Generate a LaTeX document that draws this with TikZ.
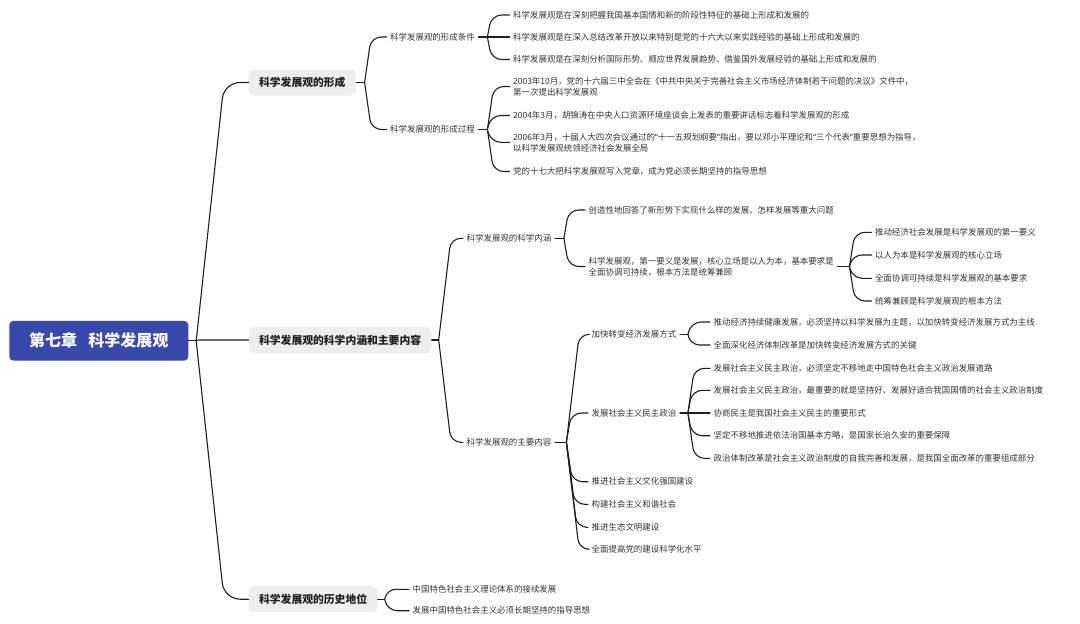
\documentclass[tikz,border=0pt]{standalone}
\usepackage{fontspec}
\setmainfont{Noto Sans CJK SC}
\newfontfamily\latinq{Noto Sans}
\newcommand\mmlq{{\latinq “}}
\newcommand\mmrq{{\latinq ”}}
\usetikzlibrary{calc}
\definecolor{rootblue}{HTML}{3949AB}
\definecolor{boxgray}{HTML}{EEEEEE}
\definecolor{topictext}{HTML}{1E1E1E}
\definecolor{leaftext}{HTML}{333333}
\definecolor{linec}{HTML}{1F1F1F}
\newdimen\mmxa \newdimen\mmya \newdimen\mmxb \newdimen\mmyb
\newcommand\mmlink[3][10]{%
  \pgfextractx{\mmxa}{\pgfpointanchor{#2}{center}}%
  \pgfextracty{\mmya}{\pgfpointanchor{#2}{center}}%
  \pgfextractx{\mmxb}{\pgfpointanchor{#3}{west}}%
  \pgfextracty{\mmyb}{\pgfpointanchor{#3}{west}}%
  \pgfmathsetmacro\mmdy{abs(\mmyb-\mmya)}%
  \pgfmathsetmacro\mmkx{\mmxa+0.1*\mmdy+2}%
  \pgfmathsetmacro\mmr{max(0.01,min(#1,0.8*\mmdy))}%
  \draw[conn,rounded corners=\mmr pt] (#2) -- (\mmkx pt,\the\mmyb) -- (#3.west);%
}
\begin{document}
\begin{tikzpicture}[x=1pt,y=-1pt,
  conn/.style={draw=linec, line width=1.1pt, line cap=round, line join=round},
  rootbox/.style={fill=rootblue, text=white, rounded corners=4pt,
    font=\fontsize{16}{16}\selectfont\bfseries, minimum width=179pt,
    minimum height=39.7pt, inner sep=0pt},
  topic/.style={fill=boxgray, text=topictext, rounded corners=5pt,
    font=\fontsize{10.8}{12}\selectfont\bfseries, inner xsep=10.4pt,
    inner ysep=0pt, minimum height=26pt, anchor=west},
  leaf/.style={text=leaftext, font=\fontsize{8.45}{11}\selectfont,
    inner xsep=3.5pt, inner ysep=1pt, anchor=west, align=left},
]
\useasboundingbox (0,0) rectangle (1080,624);

% root and main topics
\node[rootbox] (root) at (98.8,340.8) {第七章\hspace{0.7em}科学发展观};
\node[topic] (A) at (248.5,82.5) {科学发展观的形成};
\node[topic] (B) at (248.5,340) {科学发展观的科学内涵和主要内容};
\node[topic] (C) at (248.5,599.2) {科学发展观的历史地位};

% branch A
\node[leaf] (A1) at (386.5,37) {科学发展观的形成条件};
\node[leaf] (A2) at (386.5,129.5) {科学发展观的形成过程};
\node[leaf] (A11) at (509.5,15) {科学发展观是在深刻把握我国基本国情和新的阶段性特征的基础上形成和发展的};
\node[leaf] (A12) at (509.5,37) {科学发展观是在深入总结改革开放以来特别是党的十六大以来实践经验的基础上形成和发展的};
\node[leaf] (A13) at (509.5,59.5) {科学发展观是在深刻分析国际形势、顺应世界发展趋势、借鉴国外发展经验的基础上形成和发展的};
\node[leaf] (A21) at (509.5,86.5) {2003年10月，党的十六届三中全会在《中共中央关于完善社会主义市场经济体制若干问题的决议》文件中，\\第一次提出科学发展观};
\node[leaf] (A22) at (509.5,115.5) {2004年3月，胡锦涛在中央人口资源环境座谈会上发表的重要讲话标志着科学发展观的形成};
\node[leaf] (A23) at (509.5,142.3) {2006年3月，十届人大四次会议通过的\mmlq 十一五规划纲要\mmrq 指出，要以邓小平理论和\mmlq 三个代表\mmrq 重要思想为指导，\\以科学发展观统领经济社会发展全局};
\node[leaf] (A24) at (509.5,171.5) {党的十七大把科学发展观写入党章，成为党必须长期坚持的指导思想};

% branch B
\node[leaf] (B1) at (463,238.3) {科学发展观的科学内涵};
\node[leaf] (B2) at (463,442.3) {科学发展观的主要内容};
\node[leaf] (B11) at (585,210) {创造性地回答了新形势下实现什么样的发展、怎样发展等重大问题};
\node[leaf] (B12) at (585,266.5) {科学发展观，第一要义是发展，核心立场是以人为本，基本要求是\\全面协调可持续，根本方法是统筹兼顾};
\node[leaf] (B121) at (871.5,232.3) {推动经济社会发展是科学发展观的第一要义};
\node[leaf] (B122) at (871.5,255) {以人为本是科学发展观的核心立场};
\node[leaf] (B123) at (871.5,278.3) {全面协调可持续是科学发展观的基本要求};
\node[leaf] (B124) at (871.5,301) {统筹兼顾是科学发展观的根本方法};
\node[leaf] (B21) at (588,334.3) {加快转变经济发展方式};
\node[leaf] (B22) at (588,413) {发展社会主义民主政治};
\node[leaf] (B23) at (588,481.7) {推进社会主义文化强国建设};
\node[leaf] (B24) at (588,504.3) {构建社会主义和谐社会};
\node[leaf] (B25) at (588,527.3) {推进生态文明建设};
\node[leaf] (B26) at (588,549.3) {全面提高党的建设科学化水平};
\node[leaf] (B211) at (710,322) {推动经济持续健康发展，必须坚持以科学发展为主题，以加快转变经济发展方式为主线};
\node[leaf] (B212) at (710,345) {全面深化经济体制改革是加快转变经济发展方式的关键};
\node[leaf] (B221) at (710,368.3) {发展社会主义民主政治，必须坚定不移地走中国特色社会主义政治发展道路};
\node[leaf] (B222) at (710,390.3) {发展社会主义民主政治，最重要的就是坚持好、发展好适合我国国情的社会主义政治制度};
\node[leaf] (B223) at (710,413) {协商民主是我国社会主义民主的重要形式};
\node[leaf] (B224) at (710,435.7) {坚定不移地推进依法治国基本方略，是国家长治久安的重要保障};
\node[leaf] (B225) at (710,458.3) {政治体制改革是社会主义政治制度的自我完善和发展，是我国全面改革的重要组成部分};

% branch C
\node[leaf] (C1) at (409,589.3) {中国特色社会主义理论体系的接续发展};
\node[leaf] (C2) at (409,610.7) {发展中国特色社会主义必须长期坚持的指导思想};

% fan points
\coordinate (fr) at ($(root.east)+(7.7,0)$);
\coordinate (fa) at ($(A.east)+(8.5,0)$);
\coordinate (fb) at ($(B.east)+(7,0)$);
\coordinate (fc) at ($(C.east)+(7,0)$);
\coordinate (fA1) at ($(A1.east)+(9,0)$);
\coordinate (fA2) at ($(A2.east)+(9,0)$);
\coordinate (fB1) at ($(B1.east)+(9,0)$);
\coordinate (fB12) at ($(B12.east)+(12,0)$);
\coordinate (fB2) at ($(B2.east)+(11.5,0)$);
\coordinate (fB21) at ($(B21.east)+(8,0)$);
\coordinate (fB22) at ($(B22.east)+(8,0)$);

% stubs
\foreach \n/\f in {root/fr,A/fa,B/fb,C/fc,A1/fA1,A2/fA2,B1/fB1,B12/fB12,B2/fB2,B21/fB21,B22/fB22}
  \draw[conn] (\n.east) -- (\f);

% connectors
\mmlink[16]{fr}{A}
\mmlink[16]{fr}{B}
\mmlink[16]{fr}{C}
\mmlink{fa}{A1}
\mmlink{fa}{A2}
\mmlink{fA1}{A11}
\mmlink{fA1}{A12}
\mmlink{fA1}{A13}
\mmlink{fA2}{A21}
\mmlink{fA2}{A22}
\mmlink{fA2}{A23}
\mmlink{fA2}{A24}
\mmlink{fb}{B1}
\mmlink{fb}{B2}
\mmlink{fB1}{B11}
\mmlink{fB1}{B12}
\mmlink{fB12}{B121}
\mmlink{fB12}{B122}
\mmlink{fB12}{B123}
\mmlink{fB12}{B124}
\mmlink{fB2}{B21}
\mmlink{fB2}{B22}
\mmlink{fB2}{B23}
\mmlink{fB2}{B24}
\mmlink{fB2}{B25}
\mmlink{fB2}{B26}
\mmlink{fB21}{B211}
\mmlink{fB21}{B212}
\mmlink{fB22}{B221}
\mmlink{fB22}{B222}
\mmlink{fB22}{B223}
\mmlink{fB22}{B224}
\mmlink{fB22}{B225}
\mmlink{fc}{C1}
\mmlink{fc}{C2}
\end{tikzpicture}
\end{document}
